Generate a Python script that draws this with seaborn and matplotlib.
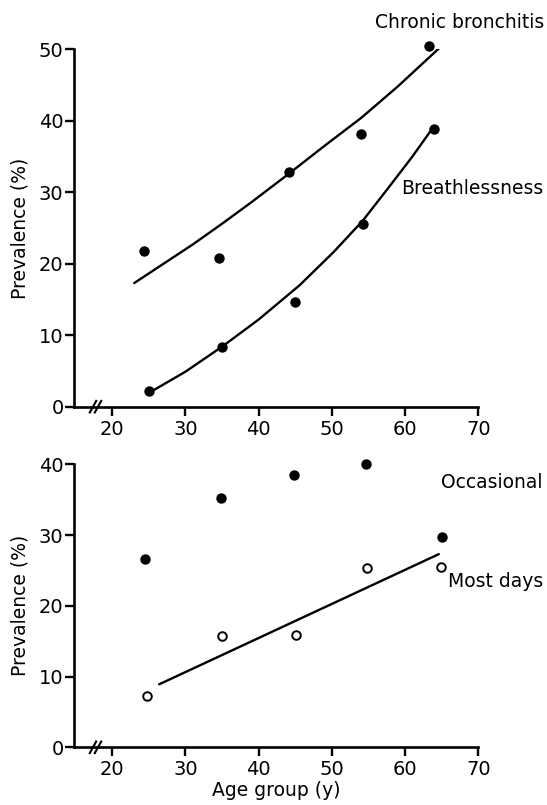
import numpy as np
import pandas as pd
import matplotlib
matplotlib.use("Agg")
import matplotlib.pyplot as plt
import seaborn as sns

# ---- data ----
# Top panel: observed points
cb_age = [24.4, 34.6, 44.2, 54.0, 63.3]
cb_prev = [21.8, 20.8, 32.8, 38.2, 50.4]
br_age = [25.05, 35.0, 45.0, 54.2, 63.9]
br_prev = [2.2, 8.4, 14.7, 25.6, 38.8]
# Top panel: fitted curves
cb_fit_age = [23.0, 27.0, 31.0, 35.0, 39.0, 44.0, 49.0, 54.0, 59.0, 64.6]
cb_fit_prev = [17.3, 20.0, 22.7, 25.6, 28.6, 32.5, 36.5, 40.4, 44.8, 50.1]
br_fit_age = [25.8, 30.0, 35.0, 40.0, 45.6, 50.2, 54.2, 57.7, 61.0, 63.5]
br_fit_prev = [2.4, 4.9, 8.4, 12.2, 17.0, 21.6, 26.0, 30.6, 35.0, 38.6]

# Bottom panel
occ_age = [24.5, 34.9, 44.8, 54.65, 65.0]
occ_prev = [26.6, 35.2, 38.5, 40.0, 29.7]
md_age = [24.8, 35.0, 45.1, 54.8, 64.9]
md_prev = [7.2, 15.7, 15.9, 25.4, 25.5]
md_fit_age = [26.4, 64.6]
md_fit_prev = [8.9, 27.3]

x_ticks = [20, 30, 40, 50, 60, 70]
y_ticks_top = [0, 10, 20, 30, 40, 50]
y_ticks_bot = [0, 10, 20, 30, 40]

sns.set_style("ticks")
plt.rcParams['font.family'] = ['DejaVu Sans']
plt.rcParams.update({"text.color": "black", "axes.labelcolor": "black",
                     "xtick.color": "black", "ytick.color": "black",
                     "axes.edgecolor": "black"})
FS = 13.5
TFS = 14

W, H = 547, 805
fig = plt.figure(figsize=(W / 100, H / 100), dpi=100)

def px(x0, y0, x1, y1):
    return [x0 / W, 1 - y1 / H, (x1 - x0) / W, (y1 - y0) / H]

ax1 = fig.add_axes(px(74, 49.3, 478.3, 406.7))
ax2 = fig.add_axes(px(74, 464.3, 478.3, 747.3))

def style(ax, yt, ymax, hpx):
    ax.set_xlim(14.77, 70)
    ax.set_ylim(0, ymax)
    ax.set_xticks(x_ticks)
    ax.set_yticks(yt)
    ax.set_xticklabels([str(t) for t in x_ticks], fontsize=TFS)
    ax.set_yticklabels([str(t) for t in yt], fontsize=TFS)
    for s in ["top", "right"]:
        ax.spines[s].set_visible(False)
    for s in ["left", "bottom"]:
        ax.spines[s].set_linewidth(1.9)
        ax.spines[s].set_color("black")
    ax.tick_params(axis="both", direction="out", length=6.5, width=1.7, colors="black")
    ax.tick_params(axis="x", pad=3)
    ax.tick_params(axis="y", pad=1)
    ax.set_xlabel("")
    ax.set_ylabel("Prevalence (%)", fontsize=FS, labelpad=7)
    # axis break marks
    wpx = 404.3
    for cx in (93.0, 98.0):
        xa = (cx - 74) / wpx
        dx = 3.7 / wpx
        dy = 6.7 / hpx
        ax.plot([xa - dx, xa + dx], [-dy, dy], transform=ax.transAxes,
                color="black", lw=1.5, clip_on=False, solid_capstyle="butt")

# Top panel
sns.lineplot(x=cb_fit_age, y=cb_fit_prev, ax=ax1, color="black", lw=1.7, sort=False)
sns.lineplot(x=br_fit_age, y=br_fit_prev, ax=ax1, color="black", lw=1.7, sort=False)
sns.scatterplot(x=cb_age, y=cb_prev, ax=ax1, color="black", s=56, linewidth=0, clip_on=False, zorder=3)
sns.scatterplot(x=br_age, y=br_prev, ax=ax1, color="black", s=56, linewidth=0, clip_on=False, zorder=3)
style(ax1, y_ticks_top, 50, 357.4)

# Bottom panel
sns.lineplot(x=md_fit_age, y=md_fit_prev, ax=ax2, color="black", lw=1.7, sort=False)
sns.scatterplot(x=occ_age, y=occ_prev, ax=ax2, color="black", s=56, linewidth=0, clip_on=False, zorder=3)
sns.scatterplot(x=md_age, y=md_prev, ax=ax2, facecolor="white", s=38, edgecolor="black",
                linewidth=1.4, clip_on=False, zorder=3)
style(ax2, y_ticks_bot, 40, 283.0)
ax2.set_xlabel("Age group (y)", fontsize=FS, labelpad=1)

# Annotations
fig.text(544 / W, 1 - 22 / H, "Chronic bronchitis", fontsize=FS, ha="right", va="center")
fig.text(543 / W, 1 - 188 / H, "Breathlessness", fontsize=FS, ha="right", va="center")
fig.text(543 / W, 1 - 482 / H, "Occasional", fontsize=FS, ha="right", va="center")
fig.text(543 / W, 1 - 581 / H, "Most days", fontsize=FS, ha="right", va="center")

fig.savefig("out.png", dpi=100, facecolor="white")
